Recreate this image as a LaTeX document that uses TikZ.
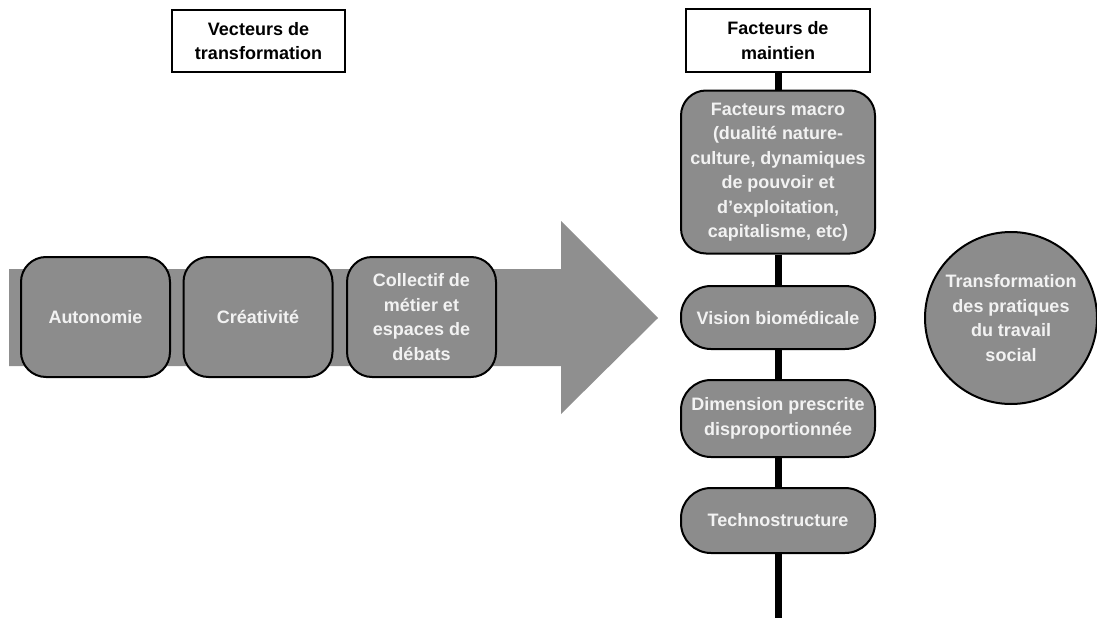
\documentclass[tikz,border=0pt]{standalone}
\usepackage{fontspec}
\setmainfont{Liberation Sans}
\definecolor{boxgray}{HTML}{8C8C8C}
\definecolor{arrowgray}{HTML}{8F8F8F}
\definecolor{txtwhite}{HTML}{F2F2F2}
\begin{document}
\begin{tikzpicture}[x=1pt,y=-1pt,
  basefont/.style={font=\fontsize{18}{24.5}\selectfont\bfseries},
  gbox/.style={basefont, draw=black, line width=2pt, fill=boxgray, text=txtwhite,
    align=center, inner sep=0pt, rounded corners=25pt},
  titlebox/.style={basefont, draw=black, line width=2.4pt, fill=white, text=black,
    align=center, inner sep=0pt},
  spine/.style={line width=7pt, black}
]
\useasboundingbox (0,0) rectangle (1097,618);

% big arrow
\fill[arrowgray] (9,269) -- (561,269) -- (561,221) -- (658,318) -- (561,414) -- (561,366) -- (9,366) -- cycle;

% titles
\node[titlebox, minimum width=173pt, minimum height=62pt] (t1) at (258.5,41) {Vecteurs de\\transformation};
\node[titlebox, minimum width=184pt, minimum height=63pt] (t2) at (778,40.5) {Facteurs de\\maintien};

% vectors
\node[gbox, minimum width=149pt, minimum height=120pt] (v1) at (95.5,317) {Autonomie};
\node[gbox, minimum width=149pt, minimum height=120pt] (v2) at (258,317) {Créativité};
\node[gbox, minimum width=149pt, minimum height=120pt] (v3) at (421.5,317) {Collectif de\\métier et\\espaces de\\débats};

% maintenance factors
\node[gbox, minimum width=194pt, minimum height=163pt] (m1) at (778,172) {Facteurs macro\\(dualité nature-\\culture, dynamiques\\de pouvoir et\\d’exploitation,\\capitalisme, etc)};
\node[gbox, rounded corners=30pt, minimum width=194pt, minimum height=63pt] (m2) at (778,317.5) {Vision biomédicale};
\node[gbox, rounded corners=30pt, minimum width=194pt, minimum height=77pt] (m3) at (778,418.5) {Dimension prescrite\\disproportionnée};
\node[gbox, rounded corners=30pt, minimum width=194pt, minimum height=65pt] (m4) at (778,520.5) {Technostructure};
\coordinate (bot) at (778,618);

\draw[spine] (t2) -- (m1);
\draw[spine] (m1) -- (m2);
\draw[spine] (m2) -- (m3);
\draw[spine] (m3) -- (m4);
\draw[spine] (m4) -- (bot);

% result
\node[gbox, circle, minimum size=172pt] (res) at (1011,318) {Transformation\\des pratiques\\du travail\\social};
\end{tikzpicture}
\end{document}
